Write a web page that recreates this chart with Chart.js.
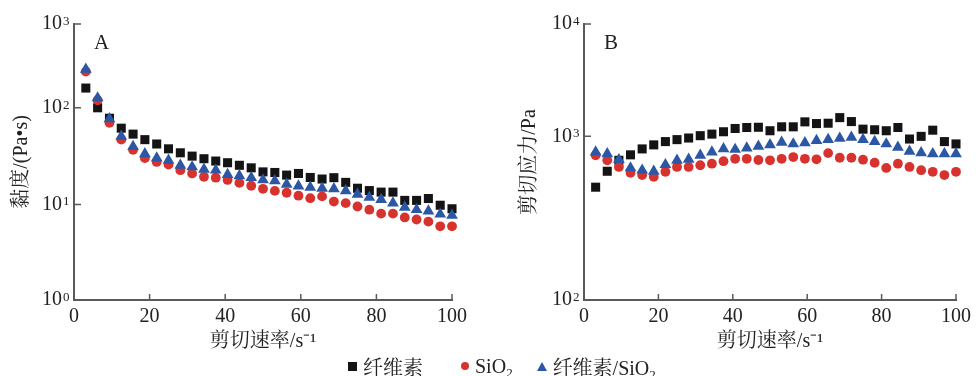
<!DOCTYPE html>
<html>
<head>
<meta charset="utf-8">
<script src="https://cdn.jsdelivr.net/npm/chart.js@4.4.1/dist/chart.umd.min.js"></script>
<style>
  body { margin: 0; background: #fff; }
  #wrap { position: relative; width: 976px; height: 376px; overflow: hidden; }
  #graphe1 { position: absolute; left: 0; top: 0; }
  #graphe2 { position: absolute; left: 490px; top: 0; }
  #legend {
    position: absolute; left: 348px; top: 354px; height: 24px;
    display: flex; align-items: center; white-space: nowrap; color: #222;
    font: 20px "Liberation Serif", "Noto Serif CJK SC", "Noto Sans CJK SC", serif;
  }
  #legend .item { display: flex; align-items: center; }
  #legend .mk { display: inline-block; margin-right: 6px; }
  #legend sub { font-size: 13px; vertical-align: -4px; line-height: 0; }
</style>
</head>
<body>
<div id="wrap">
  <canvas id="graphe1" width="490" height="354"></canvas>
  <canvas id="graphe2" width="486" height="354"></canvas>
  <div id="legend"></div>
</div>
<script>
// Données
var V_series = ['纤维素', 'SiO₂', '纤维素/SiO₂'];

var V_shearRate = [3.13, 6.25, 9.38, 12.5, 15.63, 18.75, 21.88, 25, 28.13, 31.25, 34.38, 37.5,
  40.63, 43.75, 46.88, 50, 53.13, 56.25, 59.38, 62.5, 65.63, 68.75, 71.88, 75,
  78.13, 81.25, 84.38, 87.5, 90.63, 93.75, 96.88, 100];

// A : viscosité (Pa·s)
var V_visc_cell = [172, 100, 78, 61.5, 53.4, 46.8, 42.2, 37.6, 34.2, 31.6, 29.7, 28.1,
  27.0, 25.4, 23.9, 21.7, 21.4, 20.1, 20.9, 19.0, 18.3, 18.9, 16.9, 14.7,
  13.9, 13.4, 13.4, 11.0, 11.0, 11.5, 9.8, 9.0];
var V_visc_sio2 = [270, 123, 70, 46.8, 36.7, 30.2, 27.5, 25.8, 22.6, 20.9, 19.3, 18.9,
  17.9, 16.7, 15.6, 14.5, 13.8, 13.2, 12.3, 11.6, 12.1, 10.7, 10.3, 9.5,
  8.8, 8.0, 8.0, 7.3, 6.95, 6.6, 5.9, 5.9];
var V_visc_comp = [288, 131, 77, 50.6, 39.7, 33.4, 30.2, 28.6, 25.4, 24.4, 23.1, 22.6,
  20.4, 19.8, 18.9, 17.9, 17.5, 16.1, 15.5, 15.0, 14.7, 14.5, 13.8, 12.7,
  11.8, 11.2, 10.3, 9.3, 8.8, 8.5, 7.9, 7.7];

// B : contrainte de cisaillement (Pa)
var V_stress_cell = [489, 612, 714, 771, 838, 887, 929, 955, 977, 1014, 1047, 1099,
  1175, 1199, 1205, 1122, 1216, 1216, 1346, 1300, 1309, 1468, 1354, 1159,
  1145, 1122, 1199, 963, 1000, 1135, 929, 899];
var V_stress_sio2 = [766, 714, 650, 598, 580, 566, 607, 650, 650, 666, 681, 705,
  729, 729, 717, 714, 729, 747, 729, 724, 790, 740, 740, 720,
  690, 641, 681, 650, 621, 607, 580, 607];
var V_stress_comp = [801, 782, 720, 641, 621, 612, 671, 714, 724, 766, 801, 838,
  832, 847, 868, 887, 920, 899, 912, 942, 955, 973, 986, 955,
  929, 899, 858, 809, 794, 782, 782, 782];

var V_xTicks = [0, 20, 40, 60, 80, 100];

// Styles
var V_colors = ['#141414', '#d8322f', '#2b57a4'];
var V_shapes = ['rect', 'circle', 'triangle'];
var V_radius = [6.4, 4.9, 6.8];
var S_axisColor = '#5a5a5a';
var S_font = '"Liberation Serif", "Noto Serif CJK SC", "Noto Sans CJK SC", serif';

// La figure d'origine n'a pas des décades de même hauteur :
// position (0..1) de chaque décade le long de l'axe
var V_decadeStops = {
  graphe1: [[0, 0], [1, 0.3464], [2, 0.6964], [3, 1]],
  graphe2: [[2, 0], [3, 0.5929], [4, 1]]
};

function F_logToFrac(V_st, I_log){
  var i = 0;
  while (i < V_st.length - 2 && I_log > V_st[i + 1][0]) i++;
  var a = V_st[i], b = V_st[i + 1];
  return a[1] + (I_log - a[0]) / (b[0] - a[0]) * (b[1] - a[1]);
}

function F_fracToLog(V_st, I_frac){
  var i = 0;
  while (i < V_st.length - 2 && I_frac > V_st[i + 1][1]) i++;
  var a = V_st[i], b = V_st[i + 1];
  return a[0] + (I_frac - a[1]) / (b[1] - a[1]) * (b[0] - a[0]);
}

class SplitLogScale extends Chart.LogarithmicScale {
  getPixelForValue(value){
    if (value === undefined || value === 0) value = this.min;
    if (value === null || isNaN(value)) return NaN;
    return this.getPixelForDecimal(F_logToFrac(V_decadeStops[this.chart.canvas.id], Math.log10(value)));
  }
  getValueForPixel(pixel){
    return Math.pow(10, F_fracToLog(V_decadeStops[this.chart.canvas.id], this.getDecimalForPixel(pixel)));
  }
}
SplitLogScale.id = 'splitlog';
SplitLogScale.defaults = Chart.LogarithmicScale.defaults;
Chart.register(SplitLogScale);

function F_keepDecades(O_scale){
  O_scale.ticks = O_scale.ticks.filter(function(t){
    var l = Math.log10(t.value);
    return Math.abs(l - Math.round(l)) < 1e-9;
  });
}

// Graduations vers l'intérieur, exposants des étiquettes et lettre du panneau
var O_innerTicks = {
  id: 'innerTicks',
  afterDatasetsDraw: function(chart, args, opts){
    var ctx = chart.ctx, a = chart.chartArea;
    var xs = chart.scales.x, ys = chart.scales.y;
    ctx.save();
    ctx.strokeStyle = S_axisColor;
    ctx.lineWidth = 1.5;
    ctx.beginPath();
    xs.ticks.forEach(function(t, i){
      var px = xs.getPixelForTick(i);
      ctx.moveTo(px, a.bottom); ctx.lineTo(px, a.bottom - 6);
    });
    ys.ticks.forEach(function(t, i){
      var py = ys.getPixelForTick(i);
      ctx.moveTo(a.left, py); ctx.lineTo(a.left + 7, py);
    });
    ctx.stroke();

    ctx.fillStyle = '#222';
    ctx.textAlign = 'left';
    ctx.textBaseline = 'alphabetic';
    ctx.font = '13px ' + S_font;
    ys.ticks.forEach(function(t, i){
      var py = ys.getPixelForTick(i);
      ctx.fillText(String(Math.round(Math.log10(t.value))), a.left - 11, py + 1);
    });

    ctx.font = '21px ' + S_font;
    ctx.fillText(opts.letter, a.left + 20, a.top + 25);
    ctx.restore();
  }
};

function F_makeDatasets(V_lists){
  return V_lists.map(function(V_vals, i){
    return {
      label: V_series[i],
      data: V_shearRate.map(function(x, k){ return { x: x, y: V_vals[k] }; }),
      pointStyle: V_shapes[i],
      pointRadius: V_radius[i],
      pointBackgroundColor: V_colors[i],
      pointBorderColor: V_colors[i],
      pointBorderWidth: 0,
      showLine: false,
      clip: false,
      order: 3 - i
    };
  });
}

function F_makeChart(S_id, V_lists, I_min, I_max, S_yTitle, I_yWidth, I_titlePad, I_padRight, S_letter){
  var O_ctx = document.getElementById(S_id).getContext('2d');
  return new Chart(O_ctx, {
    type: 'scatter',
    data: { datasets: F_makeDatasets(V_lists) },
    options: {
      responsive: false,
      animation: false,
      events: [],
      layout: { padding: { top: 20, right: I_padRight, bottom: 0, left: 0 } },
      plugins: {
        legend: { display: false },
        tooltip: { enabled: false },
        innerTicks: { letter: S_letter }
      },
      scales: {
        x: {
          type: 'linear',
          min: 0, max: 100,
          afterBuildTicks: function(s){ s.ticks = V_xTicks.map(function(v){ return { value: v }; }); },
          afterFit: function(s){ s.height = 54; },
          ticks: { font: { family: S_font, size: 20 }, color: '#222', padding: 5, maxRotation: 0 },
          grid: { display: false, drawTicks: false },
          border: { display: true, color: S_axisColor, width: 2 },
          title: { display: true, text: '剪切速率/s⁻¹', color: '#222',
                   font: { family: S_font, size: 20 }, padding: { top: 0, bottom: 0 } }
        },
        y: {
          type: 'splitlog',
          min: I_min, max: I_max,
          afterBuildTicks: F_keepDecades,
          afterFit: function(s){ s.width = I_yWidth; },
          ticks: {
            font: { family: S_font, size: 20 }, color: '#222', padding: 12,
            callback: function(){ return '10'; }
          },
          grid: { display: false, drawTicks: false },
          border: { display: true, color: S_axisColor, width: 2 },
          title: { display: true, text: S_yTitle, color: '#222',
                   font: { family: S_font, size: 20 }, padding: { top: I_titlePad, bottom: 0 } }
        }
      }
    },
    plugins: [O_innerTicks]
  });
}

var O_graphe1 = F_makeChart('graphe1', [V_visc_cell, V_visc_sio2, V_visc_comp], 1, 1000,
  '黏度/(Pa•s)', 74, 10, 38, 'A');
var O_graphe2 = F_makeChart('graphe2', [V_stress_cell, V_stress_sio2, V_stress_comp], 100, 10000,
  '剪切应力/Pa', 94, 28, 17, 'B');

// Légende commune
var O_legend = document.getElementById('legend');
var V_mk = [
  'width:9px;height:9px;background:' + V_colors[0],
  'width:8px;height:8px;border-radius:50%;background:' + V_colors[1],
  'width:0;height:0;border-left:5px solid transparent;border-right:5px solid transparent;border-bottom:9px solid ' + V_colors[2]
];
var V_gap = [38, 24, 0];
V_series.forEach(function(S_name, i){
  O_legend.innerHTML += '<span class="item" style="margin-right:' + V_gap[i] + 'px">' +
    '<span class="mk" style="' + V_mk[i] + '"></span>' +
    '<span>' + S_name.replace('₂', '<sub>2</sub>') + '</span></span>';
});
</script>
</body>
</html>
